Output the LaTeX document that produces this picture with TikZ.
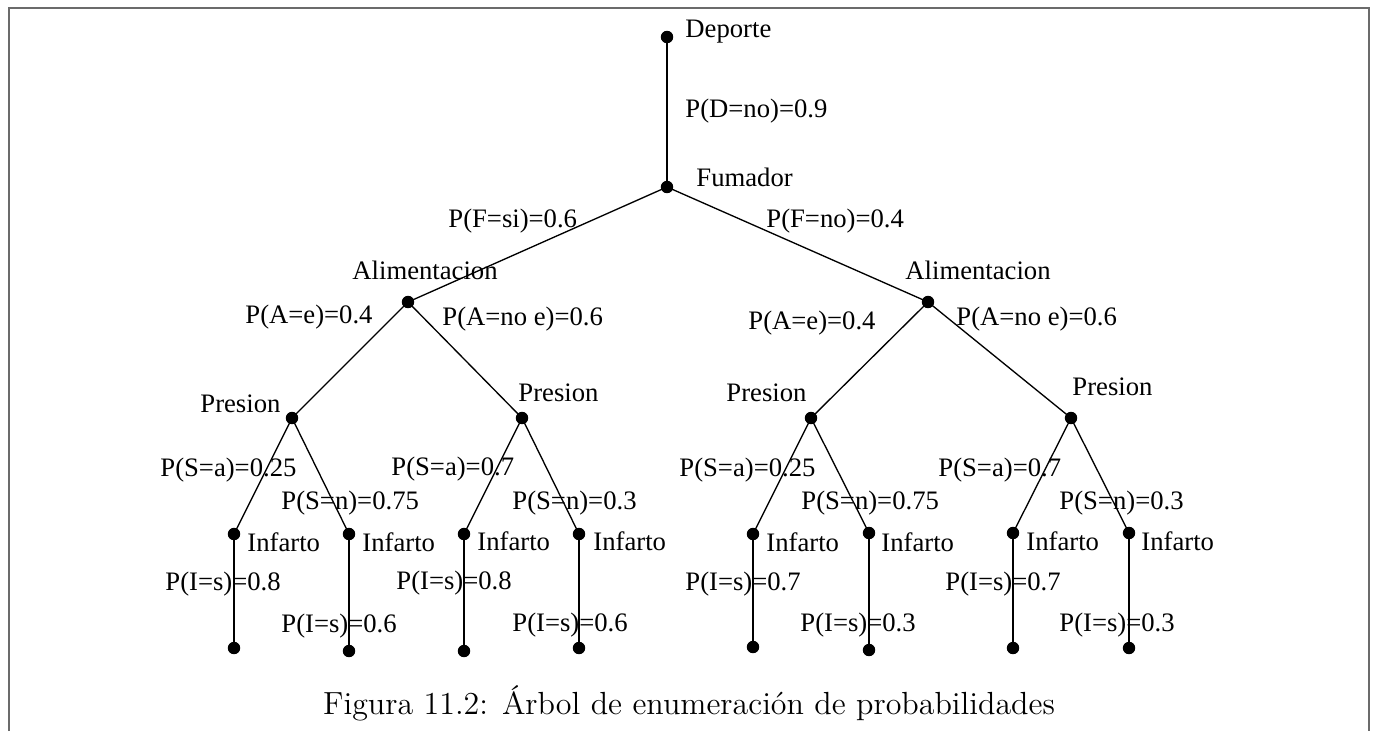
\documentclass[tikz,border=0pt]{standalone}
\usepackage{fontspec}
\newfontfamily\tmsfont{Liberation Serif}
\begin{document}
\begin{tikzpicture}[x=0.45pt,y=-0.45pt,
  vtx/.style={circle,fill=black,inner sep=0pt,minimum size=5.6pt},
  edge/.style={line width=0.6pt},
  lbl/.style={font=\tmsfont\fontsize{12}{14}\selectfont,inner sep=0pt,anchor=base west},
  framestyle/.style={draw=black!58,line width=0.9pt}]
\useasboundingbox (0,0) rectangle (1375,731);
% open frame around the figure
\draw[framestyle] (9,731) -- (9,8) -- (1369,8) -- (1369,731);

% tree vertices
\coordinate (d)   at (667,37);
\coordinate (f)   at (667,187);
\coordinate (aL)  at (408,302);
\coordinate (aR)  at (928,302);
\coordinate (pLL) at (292,418);
\coordinate (pLR) at (522,418);
\coordinate (pRL) at (811,418);
\coordinate (pRR) at (1071,418);
\coordinate (i1) at (234,534);
\coordinate (i2) at (349,534);
\coordinate (i3) at (464,534);
\coordinate (i4) at (579,534);
\coordinate (i5) at (753,534);
\coordinate (i6) at (869,533);
\coordinate (i7) at (1013,533);
\coordinate (i8) at (1129,533);
\coordinate (l1) at (234,648);
\coordinate (l2) at (349,651);
\coordinate (l3) at (464,651);
\coordinate (l4) at (579,648);
\coordinate (l5) at (753,647);
\coordinate (l6) at (869,650);
\coordinate (l7) at (1013,648);
\coordinate (l8) at (1129,648);

% branches
\draw[edge] (d) -- (f);
\draw[edge] (f) -- (aL);
\draw[edge] (f) -- (aR);
\draw[edge] (aL) -- (pLL);
\draw[edge] (aL) -- (pLR);
\draw[edge] (aR) -- (pRL);
\draw[edge] (aR) -- (pRR);
\draw[edge] (pLL) -- (i1);
\draw[edge] (pLL) -- (i2);
\draw[edge] (pLR) -- (i3);
\draw[edge] (pLR) -- (i4);
\draw[edge] (pRL) -- (i5);
\draw[edge] (pRL) -- (i6);
\draw[edge] (pRR) -- (i7);
\draw[edge] (pRR) -- (i8);
\draw[edge] (i1) -- (l1);
\draw[edge] (i2) -- (l2);
\draw[edge] (i3) -- (l3);
\draw[edge] (i4) -- (l4);
\draw[edge] (i5) -- (l5);
\draw[edge] (i6) -- (l6);
\draw[edge] (i7) -- (l7);
\draw[edge] (i8) -- (l8);

% dots on every vertex
\foreach \v in {d,f,aL,aR,pLL,pLR,pRL,pRR,i1,i2,i3,i4,i5,i6,i7,i8,l1,l2,l3,l4,l5,l6,l7,l8}
  \node[vtx] (dot-\v) at (\v) {};

% variable names
\node[lbl] (tD)  at (685,37)  {Deporte};
\node[lbl] (tF)  at (696,186) {Fumador};
\node[lbl] (tAL) at (352,279) {Alimentacion};
\node[lbl] (tAR) at (905,279) {Alimentacion};
\node[lbl] (tP1) at (200,412) {Presion};
\node[lbl] (tP2) at (518,401) {Presion};
\node[lbl] (tP3) at (726,401) {Presion};
\node[lbl] (tP4) at (1072,395) {Presion};
\node[lbl] (tI1) at (247,551) {Infarto};
\node[lbl] (tI2) at (362,551) {Infarto};
\node[lbl] (tI3) at (477,550) {Infarto};
\node[lbl] (tI4) at (593,550) {Infarto};
\node[lbl] (tI5) at (766,551) {Infarto};
\node[lbl] (tI6) at (881,551) {Infarto};
\node[lbl] (tI7) at (1026,550) {Infarto};
\node[lbl] (tI8) at (1141,550) {Infarto};

% probabilities
\node[lbl] (qD)  at (685,117) {P(D=no)=0.9};
\node[lbl] (qF1) at (448,227) {P(F=si)=0.6};
\node[lbl] (qF2) at (766,227) {P(F=no)=0.4};
\node[lbl] (qA1) at (245,323) {P(A=e)=0.4};
\node[lbl] (qA2) at (442,325) {P(A=no e)=0.6};
\node[lbl] (qA3) at (748,329) {P(A=e)=0.4};
\node[lbl] (qA4) at (956,325) {P(A=no e)=0.6};
\node[lbl] (qS1) at (160,476) {P(S=a)=0.25};
\node[lbl] (qS2) at (281,509) {P(S=n)=0.75};
\node[lbl] (qS3) at (391,475) {P(S=a)=0.7};
\node[lbl] (qS4) at (512,509) {P(S=n)=0.3};
\node[lbl] (qS5) at (679,476) {P(S=a)=0.25};
\node[lbl] (qS6) at (801,509) {P(S=n)=0.75};
\node[lbl] (qS7) at (938,476) {P(S=a)=0.7};
\node[lbl] (qS8) at (1059,509) {P(S=n)=0.3};
\node[lbl] (qI1) at (165,590) {P(I=s)=0.8};
\node[lbl] (qI2) at (281,632) {P(I=s)=0.6};
\node[lbl] (qI3) at (396,589) {P(I=s)=0.8};
\node[lbl] (qI4) at (512,631) {P(I=s)=0.6};
\node[lbl] (qI5) at (685,590) {P(I=s)=0.7};
\node[lbl] (qI6) at (800,631) {P(I=s)=0.3};
\node[lbl] (qI7) at (945,590) {P(I=s)=0.7};
\node[lbl] (qI8) at (1059,631) {P(I=s)=0.3};

% caption
\node[inner sep=0pt,anchor=base,font=\fontsize{14.4}{17}\selectfont] (cap) at (689,714)
  {Figura 11.2: Árbol de enumeración de probabilidades};
\end{tikzpicture}
\end{document}
